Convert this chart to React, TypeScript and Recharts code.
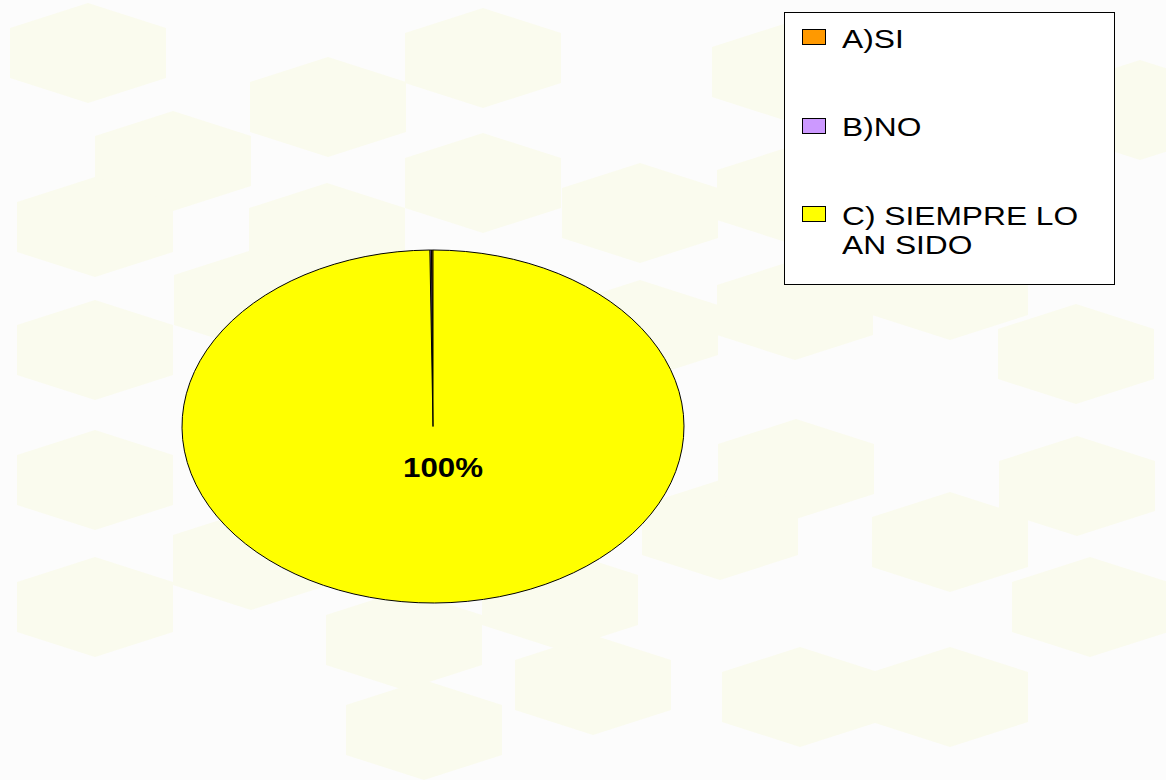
import React from "react";
import { PieChart, Pie, Cell, Legend } from "recharts";

const categories = ["A)SI", "B)NO", "C) SIEMPRE LO AN SIDO"];
const values = [0.1, 0.1, 100];
const colors = ["#FF9900", "#CC99FF", "#FFFF00"];

const data = categories.map((name, i) => ({ name, value: values[i] }));

const W = 1166;
const H = 780;
const RX = 251;
const RY = 176.5;

// decorative background hexagons
const hexCenters: [number, number][] = [
  [88, 53], [328, 107], [483, 58], [790, 72], [173, 161], [95, 227],
  [327, 233], [483, 183], [640, 213], [795, 195], [252, 300], [95, 350],
  [640, 330], [95, 480], [95, 607], [251, 560], [404, 640], [424, 730],
  [593, 685], [560, 600], [720, 530], [800, 697], [950, 290], [1076, 354],
  [796, 469], [950, 542], [1077, 486], [1090, 607], [950, 697], [795, 310],
  [950, 100], [1140, 110],
];

const hexPath = (x: number, y: number) =>
  `M${x - 78},${y - 25} L${x},${y - 50} L${x + 78},${y - 25} L${x + 78},${y + 25} L${x},${y + 50} L${x - 78},${y + 25} Z`;

const EllipseSector = (props: any) => {
  const { cx, cy, startAngle, endAngle, fill } = props;
  const toRad = Math.PI / 180;
  const sx = cx + RX * Math.cos(startAngle * toRad);
  const sy = cy - RY * Math.sin(startAngle * toRad);
  const ex = cx + RX * Math.cos(endAngle * toRad);
  const ey = cy - RY * Math.sin(endAngle * toRad);
  const delta = Math.abs(endAngle - startAngle);
  const large = delta > 180 ? 1 : 0;
  const sweep = endAngle > startAngle ? 0 : 1;
  const d = `M${cx},${cy} L${sx},${sy} A${RX},${RY} 0 ${large} ${sweep} ${ex},${ey} Z`;
  return <path d={d} fill={fill} stroke="#000" strokeWidth={1} />;
};

const renderLabel = (props: any) => {
  const { cx, cy, percent, index } = props;
  if (index !== 2) return null;
  return (
    <text
      x={cx + 10}
      y={cy + 50.5}
      textAnchor="middle"
      fontFamily="Liberation Sans, Arial, sans-serif"
      fontWeight="bold"
      fontSize={28}
      textLength={80}
      lengthAdjust="spacingAndGlyphs"
      fill="#000"
    >
      {`${Math.round(percent * 100)}%`}
    </text>
  );
};

const LegendContent = () => (
  <div
    style={{
      width: 331,
      height: 273,
      boxSizing: "border-box",
      border: "1px solid #000",
      background: "#FFFFFF",
      paddingTop: 11.8,
      fontFamily: "Liberation Sans, Arial, sans-serif",
      fontSize: 26,
      lineHeight: "29px",
      color: "#000",
      textAlign: "left",
    }}
  >
    {data.map((d, i) => (
      <div
        key={d.name}
        style={{
          position: "relative",
          marginTop: i === 0 ? 0 : 59.6,
        }}
      >
        <span
          style={{
            position: "absolute",
            left: 17,
            top: 4.5,
            width: 24,
            height: 16,
            boxSizing: "border-box",
            border: "1px solid #000",
            background: colors[i],
          }}
        />
        <div
          style={{
            marginLeft: 57,
            width: 210,
            transform: "scaleX(1.22)",
            transformOrigin: "0 0",
          }}
        >
          {d.name}
        </div>
      </div>
    ))}
  </div>
);

export default function App() {
  return (
    <div
      style={{
        position: "absolute",
        left: 0,
        top: 0,
        width: W,
        height: H,
        background: "#FCFCFC",
        overflow: "hidden",
      }}
    >
      <svg
        width={W}
        height={H}
        style={{ position: "absolute", left: 0, top: 0 }}
      >
        {hexCenters.map(([x, y], i) => (
          <path key={i} d={hexPath(x, y)} fill="#FAFBEE" />
        ))}
      </svg>
      <div style={{ position: "absolute", left: 0, top: 0 }}>
        <PieChart width={W} height={H} margin={{ top: 0, right: 0, bottom: 0, left: 0 }}>
          <Pie
            data={data}
            dataKey="value"
            nameKey="name"
            cx={433}
            cy={426.5}
            outerRadius={RY}
            startAngle={90}
            endAngle={450}
            isAnimationActive={false}
            shape={EllipseSector}
            label={renderLabel}
            labelLine={false}
          >
            {data.map((d, i) => (
              <Cell key={d.name} fill={colors[i]} />
            ))}
          </Pie>
          <Legend
            content={<LegendContent />}
            wrapperStyle={{ position: "absolute", left: 784, top: 12, width: 331, height: 273 }}
          />
        </PieChart>
      </div>
    </div>
  );
}
